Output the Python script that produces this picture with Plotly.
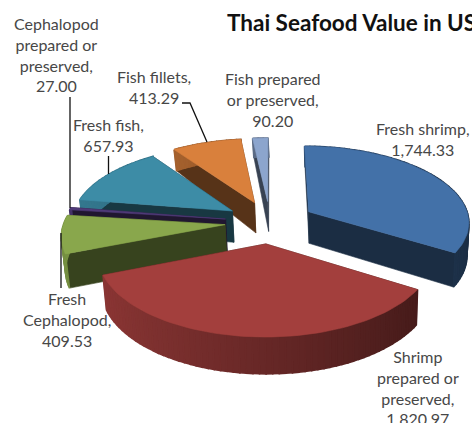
import math
import plotly.graph_objects as go

# Export value by product group, clockwise from twelve o'clock
categories = ["Fresh shrimp", "Shrimp<br>prepared or<br>preserved", "Fresh<br>Cephalopod",
              "Cephalopod<br>prepared or<br>preserved", "Fresh fish", "Fish fillets",
              "Fish prepared<br>or preserved"]
values = [1744.33, 1820.97, 409.53, 27.00, 657.93, 413.29, 90.20]
top_colors = ["#4371a8", "#a33f3d", "#89a74c", "#4f3a78", "#3d8ca6", "#d9803c", "#8ca5cd"]

# Where each label's block is centred, in page pixels
label_x = [423, 418, 67, 56, 108, 154, 273]
label_y = [138.5, 387, 319, 54, 134.5, 86.5, 99.5]

W, H = 472, 423
CX, CY = 270, 222          # pie centre
RX, RY = 161, 75.9         # radii of the top face before perspective
PERSP = 0.122              # how fast things shrink towards the back
EXPLODE = 0.28             # every slice is pulled out by this share of the radius
PAINT_ORDER = [6, 5, 4, 3, 2, 0, 1]


def project(x, y):
    """Pie-plane coordinates (y pointing away from the viewer) to page pixels."""
    s = 1 / (1 + PERSP * y)
    return CX + RX * x * s, CY - RY * y * s


def depth(y):
    return 33 - 11 * y if y > 0 else 33 - 3 * y


def lower(x, y):
    """Page position of the pie's underside below a pie-plane point."""
    px, py = project(x, y)
    return CX + 1 + (px - CX) * 0.985, py + depth(y)


def rgb(hex_color):
    return [int(hex_color[i:i + 2], 16) for i in (1, 3, 5)]


def scaled(color, f):
    return "rgb({},{},{})".format(*[round(c * f) for c in color])


def polygon(points, fill, edge=0.6):
    xs = [p[0] for p in points] + [points[0][0]]
    ys = [p[1] for p in points] + [points[0][1]]
    return go.Scatter(x=xs, y=ys, mode="lines", fill="toself", fillcolor=fill,
                      line=dict(color=fill, width=edge), hoverinfo="skip", showlegend=False)


total = sum(values)
angles = [0]
for v in values:
    angles.append(angles[-1] + v / total * 2 * math.pi)

fig = go.Figure()
for i in PAINT_ORDER:
    a0, a1 = angles[i], angles[i + 1]
    mid = (a0 + a1) / 2
    ox, oy = EXPLODE * math.sin(mid), EXPLODE * math.cos(mid)
    steps = max(2, int((a1 - a0) / math.radians(2)))
    rim = [(ox + math.sin(a0 + (a1 - a0) * k / steps),
            oy + math.cos(a0 + (a1 - a0) * k / steps),
            a0 + (a1 - a0) * k / steps) for k in range(steps + 1)]
    base = rgb(top_colors[i])

    # The two cut faces, farther one first
    faces = []
    for rx, ry, _ in (rim[0], rim[-1]):
        quad = [project(ox, oy), project(rx, ry), lower(rx, ry), lower(ox, oy)]
        faces.append(((oy + ry) / 2, quad))
    for _, quad in sorted(faces, key=lambda f: -f[0]):
        fig.add_trace(polygon(quad, scaled(base, 0.4)))

    # Outer wall, lit from the left; the wide edge closes the seams between segments
    for p, q in zip(rim[:-1], rim[1:]):
        t = (math.sin((p[2] + q[2]) / 2) + 1) / 2
        shade = 0.86 - 0.46 * t
        quad = [project(p[0], p[1]), project(q[0], q[1]), lower(q[0], q[1]), lower(p[0], p[1])]
        fig.add_trace(polygon(quad, scaled(base, shade), edge=1.6))

    fig.add_trace(polygon([project(ox, oy)] + [project(p[0], p[1]) for p in rim], top_colors[i]))

annotations = [dict(x=225, y=22, text="<b>Thai Seafood Value in US</b>", showarrow=False,
                    xanchor="left", yanchor="middle", xref="x", yref="y",
                    font=dict(family="Lato", size=22.5, color="#111111"))]
for name, v, lx, ly in zip(categories, values, label_x, label_y):
    annotations.append(dict(x=lx, y=ly, text=f"{name},<br>{v:,.2f}", showarrow=False,
                            xanchor="center", yanchor="middle", xref="x", yref="y",
                            align="center",
                            font=dict(family="Lato", size=16, color="#474747")))

# Leader lines from labels to their slices
leaders = [[(70, 97), (70, 208)],
           [(108.5, 156), (108.5, 174)],
           [(182, 103), (190, 103), (207, 142)],
           [(61, 233), (61, 288)]]
for pts in leaders:
    fig.add_trace(go.Scatter(x=[p[0] for p in pts], y=[p[1] for p in pts], mode="lines",
                             line=dict(color="#111111", width=1.3),
                             hoverinfo="skip", showlegend=False))

fig.update_layout(width=W, height=H, margin=dict(l=0, r=0, t=0, b=0),
                  paper_bgcolor="white", plot_bgcolor="white", showlegend=False,
                  annotations=annotations,
                  xaxis=dict(range=[0, W], visible=False, fixedrange=True),
                  yaxis=dict(range=[H, 0], visible=False, fixedrange=True))
fig.write_html("out.html", config={"displayModeBar": False})
